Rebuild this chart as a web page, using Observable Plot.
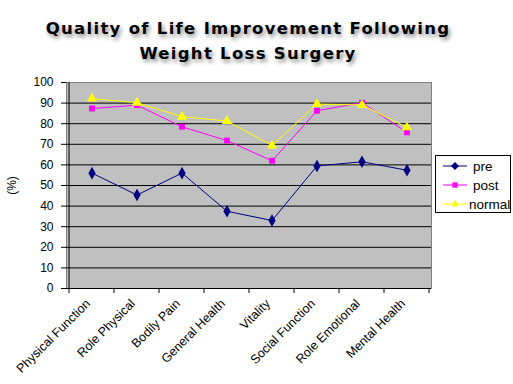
<!DOCTYPE html>
<html>
<head>
<meta charset="utf-8">
<script src="https://cdn.jsdelivr.net/npm/d3@7"></script>
<script src="https://cdn.jsdelivr.net/npm/@observablehq/plot@0.6"></script>
<style>
  html, body { margin: 0; padding: 0; background: #fff; }
  #wrap { position: relative; width: 513px; height: 384px; overflow: hidden; }
  #title {
    position: absolute; left: 0; top: 16px; width: 496px; text-align: center;
    font-family: "DejaVu Sans", sans-serif; font-weight: bold; font-size: 16.5px;
    letter-spacing: 1.3px; line-height: 25px; color: #000;
    text-shadow: 2px 3px 4px rgba(0,0,0,0.45);
  }
  #legend {
    position: absolute; left: 435px; top: 155px; width: 76px; height: 58px;
    border: 1px solid #000; background: #fff; box-sizing: border-box;
  }
  #legend svg { position: absolute; left: 0; top: 0; }
</style>
</head>
<body>
<div id="wrap">
  <div id="title">Quality of Life Improvement Following<br>Weight Loss Surgery</div>
  <div id="legend"></div>
</div>
<script>
const categories = ["Physical Function", "Role Physical", "Bodily Pain", "General Health", "Vitality", "Social Function", "Role Emotional", "Mental Health"];
const preValues    = [56, 45.4, 56, 37.5, 33, 59.5, 61.5, 57.4];
const postValues   = [87.4, 89, 78.5, 71.8, 62, 86.3, 90.2, 75.8];
const normalValues = [92.2, 90.2, 83.4, 81.3, 69.4, 89.5, 89.1, 78.2];
const seriesNames  = ["pre", "post", "normal"];
const seriesColors = ["#000080", "#FF00FF", "#FFFF00"];
const seriesSymbols = ["diamond", "square", "triangle"];
const seriesR = [3.8, 3.3, 3.8];
const yTicks = [0, 10, 20, 30, 40, 50, 60, 70, 80, 90, 100];

const seriesValues = [preValues, postValues, normalValues];
const data = seriesNames.flatMap((s, si) => categories.map((c, i) => ({series: s, category: c, value: seriesValues[si][i]})));

const marks = [
  Plot.frame({fill: "#C0C0C0", stroke: "#808080"}),
  Plot.ruleY(yTicks.filter(d => d > 0 && d < 100), {stroke: "#000", strokeWidth: 1}),
  Plot.ruleY([0], {stroke: "#000"}),
  Plot.axisY({ticks: yTicks, tickSize: 5, tickPadding: 8, fontSize: 12, label: "(%)", labelAnchor: "center", labelArrow: "none", labelOffset: 59}),
  Plot.axisX({tickSize: 0, tickRotate: -45, tickPadding: 13, fontSize: 12.5, label: null, dx: -4}),
];
seriesNames.forEach((s, si) => {
  const d = data.filter(r => r.series === s);
  marks.push(Plot.line(d, {x: "category", y: "value", stroke: seriesColors[si], strokeWidth: 1}));
  marks.push(Plot.dot(d, {x: "category", y: "value", fill: seriesColors[si], symbol: seriesSymbols[si], r: seriesR[si], stroke: "none"}));
});

const chart = Plot.plot({
  width: 513,
  height: 384,
  marginTop: 82,
  marginBottom: 96,
  marginLeft: 66,
  marginRight: 82,
  style: {fontFamily: "'Liberation Sans', Arial, sans-serif", color: "#000", background: "transparent", overflow: "visible"},
  x: {type: "band", domain: categories, padding: 0},
  y: {domain: [0, 100]},
  marks
});
chart.style.position = "absolute";
chart.style.left = "0px";
chart.style.top = "0px";
document.getElementById("wrap").prepend(chart);

// boundary ticks on x axis and left axis line, via scales
const xs = chart.scale("x");
const ys = chart.scale("y");
const svgNS = "http://www.w3.org/2000/svg";
const g = document.createElementNS(svgNS, "g");
const bw = xs.bandwidth;
const y0 = ys.apply(0), y100 = ys.apply(100);
const bounds = categories.map(c => xs.apply(c)).concat([xs.apply(categories[categories.length - 1]) + bw]);
bounds.forEach(x => {
  const l = document.createElementNS(svgNS, "line");
  l.setAttribute("x1", x); l.setAttribute("x2", x);
  l.setAttribute("y1", y0); l.setAttribute("y2", y0 + 5);
  l.setAttribute("stroke", "#000");
  g.appendChild(l);
});
const ax = document.createElementNS(svgNS, "line");
ax.setAttribute("x1", bounds[0]); ax.setAttribute("x2", bounds[0]);
ax.setAttribute("y1", y0); ax.setAttribute("y2", y100);
ax.setAttribute("stroke", "#000");
g.appendChild(ax);
chart.appendChild(g);

// legend
const leg = d3.select("#legend").append("svg").attr("width", 76).attr("height", 58);
seriesNames.forEach((s, i) => {
  const cy = 10 + i * 19;
  leg.append("line").attr("x1", 7).attr("x2", 31).attr("y1", cy).attr("y2", cy).attr("stroke", seriesColors[i]);
  const sym = d3.symbol().type([d3.symbolDiamond2, d3.symbolSquare2, d3.symbolTriangle2][i]).size([40, 36, 40][i]);
  leg.append("path").attr("d", sym()).attr("transform", `translate(19,${cy})`).attr("fill", seriesColors[i]);
  leg.append("text").attr("x", i === 2 ? 33 : 37).attr("y", cy + 5).text(s)
    .attr("font-family", "'Liberation Sans', Arial, sans-serif").attr("font-size", 13.5);
});
</script>
</body>
</html>
